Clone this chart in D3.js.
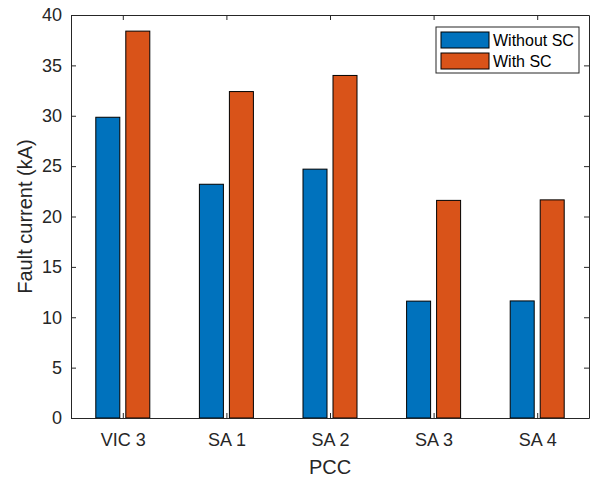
<!DOCTYPE html>
<html>
<head>
<meta charset="utf-8">
<script src="https://cdn.jsdelivr.net/npm/d3@7"></script>
<style>
  body { margin: 0; background: #fff; }
  svg text { font-family: "Liberation Sans", Arial, sans-serif; }
</style>
</head>
<body>
<script>
// Chart data
const categories = ["VIC 3", "SA 1", "SA 2", "SA 3", "SA 4"];
const seriesNames = ["Without SC", "With SC"];
const withoutSC = [29.85, 23.2, 24.7, 11.6, 11.62];
const withSC = [38.4, 32.4, 34.0, 21.6, 21.65];
const yTicks = [0, 5, 10, 15, 20, 25, 30, 35, 40];
const colors = ["#0072BD", "#D95319"];

const W = 597, H = 479;
const margin = {top: 15, left: 71, right: 8, bottom: 61};
const width = W - margin.left - margin.right;
const height = H - margin.top - margin.bottom;
const axisColor = "#262626";

const svg = d3.select("body").append("svg")
    .attr("width", W)
    .attr("height", H);

const g = svg.append("g")
    .attr("transform", `translate(${margin.left}, ${margin.top})`);

// Scales (MATLAB style xlim [0.5, 5.5])
const x = d3.scaleLinear().domain([0.5, categories.length + 0.5]).range([0, width]);
const y = d3.scaleLinear().domain([0, 40]).range([height, 0]);

const barW = 24, offset = 15;
const series = [withoutSC, withSC];

// Bars
series.forEach((vals, s) => {
  g.selectAll(".bar" + s)
    .data(vals)
    .enter().append("rect")
    .attr("x", (d, i) => x(i + 1) + (s === 0 ? -offset : offset) - barW / 2)
    .attr("y", d => y(d))
    .attr("width", barW)
    .attr("height", d => y(0) - y(d))
    .attr("fill", colors[s])
    .attr("stroke", "#000")
    .attr("stroke-width", 1);
});

// Axes
const tickLen = 5;
const xAxis = d3.axisBottom(x).tickValues(d3.range(1, categories.length + 1))
  .tickFormat(d => categories[d - 1]).tickSizeInner(-tickLen).tickSizeOuter(0).tickPadding(15);
const yAxis = d3.axisLeft(y).tickValues(yTicks).tickSizeInner(-tickLen).tickSizeOuter(0).tickPadding(9);

const gx = g.append("g").attr("transform", `translate(0, ${height})`).call(xAxis);
const gy = g.append("g").call(yAxis);
const gxt = g.append("g").call(d3.axisTop(x).tickValues(d3.range(1, categories.length + 1))
  .tickFormat("").tickSizeInner(-tickLen).tickSizeOuter(0));
const gyr = g.append("g").attr("transform", `translate(${width}, 0)`)
  .call(d3.axisRight(y).tickValues(yTicks).tickFormat("").tickSizeInner(-tickLen).tickSizeOuter(0));

[gx, gy, gxt, gyr].forEach(a => {
  a.attr("font-family", null).attr("font-size", null);
  a.select(".domain").attr("stroke", axisColor).attr("stroke-width", 1);
  a.selectAll(".tick line").attr("stroke", axisColor).attr("stroke-width", 1);
  a.selectAll(".tick text").attr("fill", axisColor).style("font-size", "18px");
});

// Axis labels
g.append("text")
  .attr("x", width / 2).attr("y", height + 56)
  .attr("text-anchor", "middle")
  .attr("fill", axisColor)
  .style("font-size", "20px")
  .text("PCC");

g.append("text")
  .attr("transform", `translate(${-39}, ${height / 2}) rotate(-90)`)
  .attr("text-anchor", "middle")
  .attr("fill", axisColor)
  .style("font-size", "20px")
  .text("Fault current (kA)");

// Legend
const legend = g.append("g").attr("transform", `translate(${436 - margin.left}, ${27 - margin.top})`);
legend.append("rect")
  .attr("width", 143).attr("height", 46)
  .attr("fill", "#fff").attr("stroke", axisColor).attr("stroke-width", 1);
seriesNames.forEach((name, s) => {
  legend.append("rect")
    .attr("x", 5).attr("y", 5 + s * 21)
    .attr("width", 48).attr("height", 16)
    .attr("fill", colors[s]).attr("stroke", "#000");
  legend.append("text")
    .attr("x", 57).attr("y", 13.5 + s * 21)
    .attr("dy", "0.35em")
    .attr("fill", "#000")
    .style("font-size", "16px")
    .text(name);
});
</script>
</body>
</html>
